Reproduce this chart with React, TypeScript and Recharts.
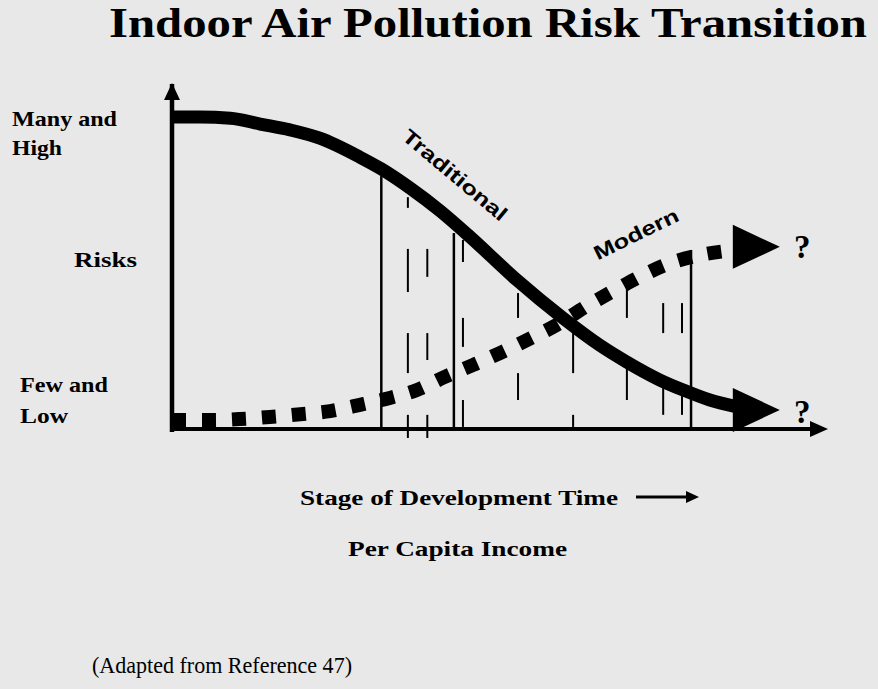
import React from "react";
import { ComposedChart, Line, XAxis, YAxis, ReferenceLine, ReferenceDot } from "recharts";

// Conceptual axes: stage of development (0-100) vs risk level (0-100)
const traditionalStage = [0, 4.3, 9.0, 13.6, 18.2, 22.8, 29.0, 32.3, 36.7, 41.4, 46.0, 53.2, 60.3, 66.0, 70.2, 75.3, 78.9, 83.0, 87.2];
const traditionalRisk = [90.4, 90.4, 90.1, 88.4, 86.7, 84.3, 78.8, 75.4, 69.9, 63.2, 55.7, 43.2, 32.2, 24.3, 19.4, 14.2, 11.3, 8.4, 6.4];
const traditionalTip = { x: 93.8, y: 5.5 };

const modernStage = [0, 5.9, 10.5, 15.1, 19.8, 24.4, 29.0, 33.6, 37.8, 42.1, 46.5, 50.6, 54.8, 59.1, 64.5, 68.7, 72.7, 76.9, 81.5, 86.9];
const modernRisk = [2.6, 2.6, 2.9, 3.5, 4.3, 5.2, 7.0, 9.0, 11.3, 15.1, 18.6, 22.0, 25.8, 29.9, 36.2, 40.6, 44.6, 48.1, 50.4, 51.9];
const modernTip = { x: 93.8, y: 52.8 };

// Solid transition markers: [stage, top risk]
const solidMarkers: [number, number][] = [
  [32.3, 73.3],
  [43.5, 56.8],
  [80.1, 51.9],
];

// Dashed markers: stage and list of [from, to] risk segments
const dashedStages = [36.4, 39.4, 44.9, 53.4, 61.9, 70.2, 75.8, 78.7];
const dashedSegments: [number, number][][] = [
  [[67.2, 64.1], [52.2, 39.7], [27.8, 16.2], [4.1, -2.6]],
  [[52.2, 44.1], [27.8, 20.0], [4.1, -2.6]],
  [[54.8, 48.4], [32.2, 23.8], [8.4, 0.6]],
  [[39.4, 32.2], [16.2, 8.4]],
  [[27.8, 16.2], [4.1, 0.6]],
  [[43.8, 32.2], [19.1, 8.4]],
  [[36.5, 27.8], [11.9, 4.1]],
  [[36.5, 27.8], [11.9, 4.1]],
];

const title = "Indoor Air Pollution Risk Transition";
const yLabelsTop = ["Many and", "High"];
const yLabelMid = "Risks";
const yLabelsBottom = ["Few and", "Low"];
const xLabel1 = "Stage of Development Time";
const xLabel2 = "Per Capita Income";
const sourceNote = "(Adapted from Reference 47)";
const seriesNames = ["Traditional", "Modern"];

const traditionalData = traditionalStage.map((x, i) => ({ x, y: traditionalRisk[i] }));
const modernData = modernStage.map((x, i) => ({ x, y: modernRisk[i] }));

const BG = "#e8e8e8";
const serif = "'Liberation Serif', 'Times New Roman', serif";
const sans = "'Liberation Sans', Arial, sans-serif";

const bigArrow = (p: any) => {
  const { cx, cy } = p;
  return (
    <polygon
      points={`${cx},${cy} ${cx - 47},${cy - 22} ${cx - 47},${cy + 22}`}
      fill="#000"
    />
  );
};

const xAxisArrow = (p: any) => {
  const { cx, cy } = p;
  return <polygon points={`${cx + 8},${cy} ${cx - 10},${cy - 8} ${cx - 10},${cy + 8}`} fill="#000" />;
};

const yAxisArrow = (p: any) => {
  const { cx, cy } = p;
  return <polygon points={`${cx},${cy - 1} ${cx - 8},${cy + 16} ${cx + 8},${cy + 16}`} fill="#000" />;
};

export default function App() {
  return (
    <div style={{ position: "absolute", left: 0, top: 0, width: 878, height: 689, background: BG, overflow: "hidden" }}>
      <ComposedChart width={878} height={689} margin={{ top: 84, right: 58, bottom: 260, left: 172 }}>
        <XAxis type="number" dataKey="x" domain={[0, 100]} hide allowDataOverflow />
        <YAxis type="number" domain={[0, 100]} hide allowDataOverflow />

        {solidMarkers.map(([x, top], i) => (
          <ReferenceLine
            key={"s" + i}
            segment={[{ x, y: 0 }, { x, y: top }]}
            stroke="#000"
            strokeWidth={2.5}
            ifOverflow="visible"
          />
        ))}
        {dashedStages.map((x, i) =>
          dashedSegments[i].map(([a, b], j) => (
            <ReferenceLine
              key={"d" + i + "-" + j}
              segment={[{ x, y: a }, { x, y: b }]}
              stroke="#000"
              strokeWidth={2}
              ifOverflow="visible"
            />
          ))
        )}

        {/* axes */}
        <ReferenceLine segment={[{ x: 0, y: 0 }, { x: 100, y: 0 }]} stroke="#000" strokeWidth={4} ifOverflow="visible" />
        <ReferenceLine segment={[{ x: 0, y: -0.9 }, { x: 0, y: 100 }]} stroke="#000" strokeWidth={4.5} ifOverflow="visible" />
        <ReferenceDot x={100} y={0} r={1} shape={xAxisArrow} ifOverflow="visible" />
        <ReferenceDot x={0} y={100} r={1} shape={yAxisArrow} ifOverflow="visible" />

        <Line
          data={modernData}
          dataKey="y"
          type="monotone"
          stroke="#000"
          strokeWidth={14}
          strokeDasharray="14 16"
          dot={false}
          activeDot={false}
          isAnimationActive={false}
          name={seriesNames[1]}
        />
        <Line
          data={traditionalData}
          dataKey="y"
          type="monotone"
          stroke="#000"
          strokeWidth={13}
          dot={false}
          activeDot={false}
          isAnimationActive={false}
          name={seriesNames[0]}
        />
        <ReferenceDot x={traditionalTip.x} y={traditionalTip.y} r={1} shape={bigArrow} ifOverflow="visible" />
        <ReferenceDot x={modernTip.x} y={modernTip.y} r={1} shape={bigArrow} ifOverflow="visible" />
      </ComposedChart>

      <svg
        width={878}
        height={689}
        style={{ position: "absolute", left: 0, top: 0, pointerEvents: "none" }}
      >
        <text x={109} y={37} fontFamily={serif} fontWeight="bold" fontSize={42} textLength={758} lengthAdjust="spacingAndGlyphs" fill="#000">
          {title}
        </text>

        <text x={12} y={126} fontFamily={serif} fontWeight="bold" fontSize={21} textLength={105} lengthAdjust="spacingAndGlyphs">{yLabelsTop[0]}</text>
        <text x={12} y={155} fontFamily={serif} fontWeight="bold" fontSize={21} textLength={50} lengthAdjust="spacingAndGlyphs">{yLabelsTop[1]}</text>
        <text x={74} y={267} fontFamily={serif} fontWeight="bold" fontSize={22} textLength={63} lengthAdjust="spacingAndGlyphs">{yLabelMid}</text>
        <text x={20} y={392} fontFamily={serif} fontWeight="bold" fontSize={21} textLength={88} lengthAdjust="spacingAndGlyphs">{yLabelsBottom[0]}</text>
        <text x={20} y={423} fontFamily={serif} fontWeight="bold" fontSize={21} textLength={48} lengthAdjust="spacingAndGlyphs">{yLabelsBottom[1]}</text>

        <text x={300} y={505} fontFamily={serif} fontWeight="bold" fontSize={22} textLength={318} lengthAdjust="spacingAndGlyphs">{xLabel1}</text>
        <line x1={636} y1={497} x2={688} y2={497} stroke="#000" strokeWidth={3} />
        <polygon points="699,497 686,491 686,503" fill="#000" />
        <text x={348} y={556} fontFamily={serif} fontWeight="bold" fontSize={22} textLength={219} lengthAdjust="spacingAndGlyphs">{xLabel2}</text>

        <text x={92} y={673} fontFamily={serif} fontSize={24} textLength={260} lengthAdjust="spacingAndGlyphs">{sourceNote}</text>

        <text
          x={455}
          y={175}
          fontFamily={sans}
          fontWeight="bold"
          fontSize={20}
          textAnchor="middle"
          dominantBaseline="central"
          textLength={130}
          lengthAdjust="spacingAndGlyphs"
          transform="rotate(40 455 175)"
        >
          {seriesNames[0]}
        </text>
        <text
          x={636}
          y={234}
          fontFamily={sans}
          fontWeight="bold"
          fontSize={20}
          textAnchor="middle"
          dominantBaseline="central"
          textLength={92}
          lengthAdjust="spacingAndGlyphs"
          transform="rotate(-26 636 234)"
        >
          {seriesNames[1]}
        </text>

        <text x={794} y={258} fontFamily={serif} fontWeight="bold" fontSize={33}>?</text>
        <text x={794} y={423} fontFamily={serif} fontWeight="bold" fontSize={33}>?</text>
      </svg>
    </div>
  );
}
